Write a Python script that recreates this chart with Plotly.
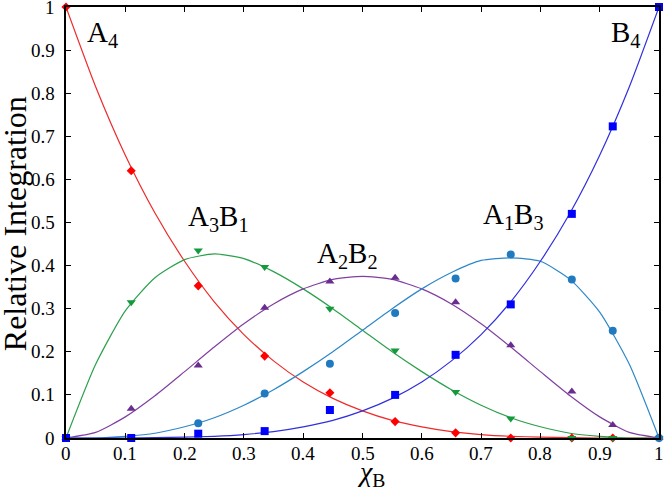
import plotly.graph_objects as go

# measured compositions (x_B) and relative integrations
x_pts = [0, 0.11, 0.223, 0.335, 0.445, 0.555, 0.657, 0.75, 0.853, 0.922, 1.0]
a4_pts = [1.0, 0.62, 0.353, 0.19, 0.105, 0.038, 0.012, 0.0, 0.0, 0.0, 0.0]
a3b1_pts = [0.0, 0.315, 0.435, 0.397, 0.30, 0.203, 0.107, 0.045, 0.0, 0.0, 0.0]
a2b2_pts = [0.0, 0.068, 0.168, 0.302, 0.363, 0.372, 0.315, 0.215, 0.108, 0.03, 0.0]
a1b3_pts = [0.0, 0.0, 0.034, 0.103, 0.172, 0.29, 0.37, 0.426, 0.368, 0.249, 0.0]
b4_pts = [0.0, 0.0, 0.01, 0.016, 0.065, 0.1, 0.193, 0.31, 0.52, 0.723, 1.0]

# fitted curves
x_fit = [0, 0.05, 0.1, 0.15, 0.2, 0.25, 0.3, 0.35, 0.4, 0.45, 0.5,
         0.55, 0.6, 0.65, 0.7, 0.75, 0.8, 0.85, 0.9, 0.95, 1.0]
a4_fit = [1.0, 0.815, 0.656, 0.522, 0.41, 0.316, 0.24, 0.179, 0.13, 0.092, 0.063,
          0.041, 0.026, 0.015, 0.008, 0.004, 0.002, 0.001, 0.0, 0.0, 0.0]
a3b1_fit = [0.0, 0.171, 0.295, 0.372, 0.414, 0.427, 0.416, 0.386, 0.346, 0.3, 0.25,
            0.2, 0.154, 0.112, 0.076, 0.047, 0.026, 0.011, 0.004, 0.0, 0.0]
a2b2_fit = [0.0, 0.013, 0.049, 0.098, 0.154, 0.211, 0.265, 0.311, 0.346, 0.368, 0.375,
            0.368, 0.346, 0.311, 0.265, 0.211, 0.154, 0.098, 0.049, 0.013, 0.0]
a1b3_fit = [0.0, 0.0, 0.004, 0.011, 0.026, 0.047, 0.076, 0.112, 0.154, 0.2, 0.25,
            0.3, 0.346, 0.384, 0.412, 0.418, 0.41, 0.368, 0.292, 0.171, 0.0]
b4_fit = [0.0, 0.0, 0.0, 0.001, 0.002, 0.004, 0.008, 0.015, 0.026, 0.041, 0.063,
          0.092, 0.13, 0.179, 0.24, 0.316, 0.41, 0.522, 0.656, 0.815, 1.0]

tick_vals = [0, 0.1, 0.2, 0.3, 0.4, 0.5, 0.6, 0.7, 0.8, 0.9, 1]
tick_text = ["0", "0.1", "0.2", "0.3", "0.4", "0.5", "0.6", "0.7", "0.8", "0.9", "1"]

series = [
    ("A4", a4_fit, a4_pts, "#ee2a2a", "#ff0000", "diamond", 7),
    ("A3B1", a3b1_fit, a3b1_pts, "#2ca04c", "#149a3c", "triangle-down", 8),
    ("A2B2", a2b2_fit, a2b2_pts, "#8040a0", "#6a2c91", "triangle-up", 8),
    ("A1B3", a1b3_fit, a1b3_pts, "#2e88c8", "#1f7ac0", "circle", 8),
    ("B4", b4_fit, b4_pts, "#3030dd", "#0000ff", "square", 8),
]

FONT = "Liberation Serif"
TICK_FONT = dict(family=FONT, size=19, color="black")

fig = go.Figure()
for name, fit, pts, lc, mc, sym, ms in series:
    fig.add_trace(go.Scatter(x=x_fit, y=fit, mode="lines", line=dict(color=lc, width=1.2, shape="spline", smoothing=0.6),
                             showlegend=False, hoverinfo="skip"))
for name, fit, pts, lc, mc, sym, ms in series:
    fig.add_trace(go.Scatter(x=x_pts, y=pts, mode="markers", name=name,
                             marker=dict(color=mc, symbol=sym, size=ms), showlegend=False, cliponaxis=False))

labels = [
    ("A<sub>4</sub>", 0.032, 0.937),
    ("A<sub>3</sub>B<sub>1</sub>", 0.202, 0.51),
    ("A<sub>2</sub>B<sub>2</sub>", 0.42, 0.425),
    ("A<sub>1</sub>B<sub>3</sub>", 0.7, 0.515),
    ("B<sub>4</sub>", 0.915, 0.937),
]
for txt, lx, ly in labels:
    fig.add_annotation(x=lx, y=ly, xref="x", yref="y", text=txt, showarrow=False,
                       xanchor="left", yanchor="middle", font=dict(family=FONT, size=29, color="black"))

# tick labels drawn as text so the serif font is used
for v, t in zip(tick_vals, tick_text):
    fig.add_annotation(x=v, y=-0.008, xref="x", yref="paper", text=t, showarrow=False,
                       xanchor="center", yanchor="top", font=TICK_FONT)
    fig.add_annotation(x=-0.015, y=v, xref="paper", yref="y", text=t, showarrow=False,
                       xanchor="right", yanchor="middle", font=TICK_FONT)

fig.add_annotation(x=-0.087, y=0.497, xref="paper", yref="paper", text="Relative Integration",
                   textangle=-90, showarrow=False, xanchor="center", yanchor="middle",
                   font=dict(family=FONT, size=32, color="black"))
fig.add_annotation(x=0.515, y=-0.083, xref="paper", yref="paper", text="<i>χ</i><sub>B</sub>",
                   showarrow=False, xanchor="center", yanchor="middle",
                   font=dict(family=FONT, size=28, color="black"))

axis_style = dict(range=[0, 1], tickmode="array", tickvals=tick_vals, showticklabels=False,
                  showgrid=False, zeroline=False,
                  showline=True, linecolor="black", linewidth=1.5, mirror="allticks",
                  ticks="inside", ticklen=5, tickcolor="black", tickwidth=1)

fig.update_xaxes(**axis_style)
fig.update_yaxes(**axis_style)
fig.update_layout(width=666, height=490, margin=dict(l=66, r=5, t=5, b=52),
                  font=dict(family=FONT, size=19, color="black"),
                  plot_bgcolor="white", paper_bgcolor="white", showlegend=False)

fig.write_html("out.html", config={"displayModeBar": False},
               post_script="document.body.style.margin='0';")
